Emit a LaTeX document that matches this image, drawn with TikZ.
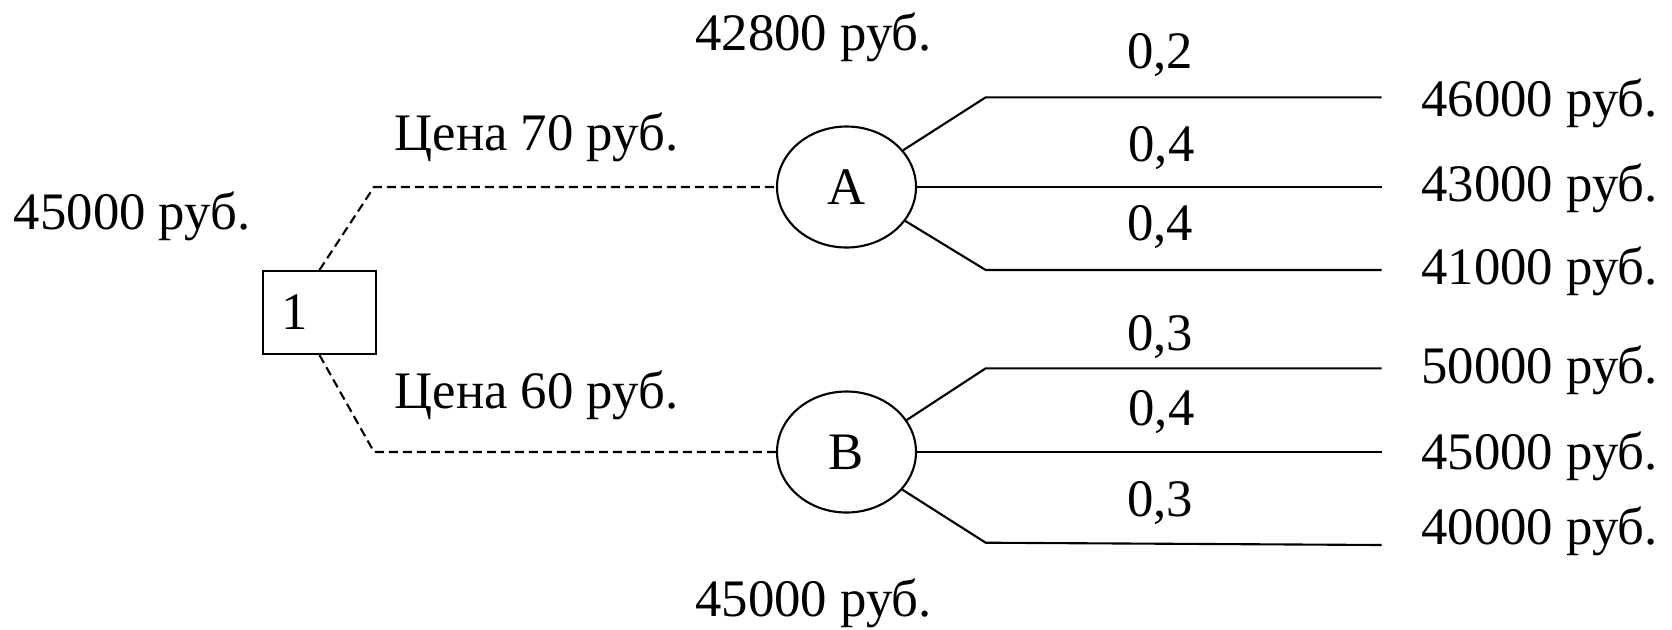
\documentclass[tikz,border=0pt]{standalone}
\usepackage{fontspec}
\setmainfont{Liberation Serif}
\usetikzlibrary{positioning}
\usetikzlibrary{shapes.geometric}

\begin{document}
\begin{tikzpicture}[font=\fontsize{15}{18}\selectfont,
    txt/.style={inner sep=0pt,text height=0.35cm,text depth=0pt},
    prob/.style={txt},
    chance node/.style={ellipse,draw,line width=0.6pt,minimum width=1.39cm,minimum height=1.21cm,inner sep=0pt},
    decision node/.style={rectangle,draw,line width=0.6pt,minimum height=0.83cm,text width=0.77cm,inner xsep=0.18cm,align=left},
    choice/.style={line width=0.6pt,dash pattern=on 0.09cm off 0.05cm},
    branch/.style={line width=0.6pt}]

    \useasboundingbox (0,0) rectangle (16.72,-6.29);

		\node[decision node](dec) at (3.195,-3.125){1};
		\node[chance node](A) at (8.465,-1.87){A};
		\node[chance node](B) at (8.465,-4.52){B};

		\coordinate (kA) at (3.74,-1.87);
		\coordinate (kB) at (3.74,-4.52);
		\coordinate (a1) at (9.857,-0.973);
		\coordinate (a1e) at (13.817,-0.973);
		\coordinate (a2e) at (13.817,-1.87);
		\coordinate (a3) at (9.857,-2.70);
		\coordinate (a3e) at (13.817,-2.70);
		\coordinate (b1) at (9.857,-3.683);
		\coordinate (b1e) at (13.817,-3.683);
		\coordinate (b2e) at (13.817,-4.52);
		\coordinate (b3) at (9.857,-5.427);
		\coordinate (b3e) at (13.817,-5.45);

		\node[txt](v0)[above left = 0.395cm and 0.11cm of dec.north west]{45000 руб.};
		\node[txt](pa)[above right = 0.355cm and 0.2cm of kA]{Цена 70 руб.};
		\node[txt](pb)[above right = 0.425cm and 0.2cm of kB]{Цена 60 руб.};
		\node[txt](vA)[above = 0.74cm of A, xshift = -0.33cm]{42800 руб.};
		\node[txt](vB)[below = 0.67cm of B, xshift = -0.33cm]{45000 руб.};

		\draw [choice] (dec.north) -- (kA) -- (A.west);
		\draw [choice] (dec.south) -- (kB) -- (B.west);

		\draw [branch] (A.33) -- (a1) -- node [prob, above = 0.275cm, pos = 0.44] {0,2} (a1e);
		\draw [branch] (A.east) -- node [prob, above = 0.245cm, pos = 0.526] {0,4} (a2e);
		\draw [branch] (A.-30) -- (a3) -- node [prob, above = 0.285cm, pos = 0.44] {0,4} (a3e);
		\draw [branch] (B.28) -- (b1) -- node [prob, above = 0.165cm, pos = 0.44] {0,3} (b1e);
		\draw [branch] (B.east) -- node [prob, above = 0.255cm, pos = 0.526] {0,4} (b2e);
		\draw [branch] (B.-34) -- (b3) -- node [prob, above = 0.265cm, pos = 0.44] {0,3} (b3e);

		\node[txt](r1)[right = 0.39cm of a1e, yshift = -0.02cm]{46000 руб.};
		\node[txt](r2)[right = 0.39cm of a2e, yshift = 0.03cm]{43000 руб.};
		\node[txt](r3)[right = 0.39cm of a3e, yshift = 0.035cm]{41000 руб.};
		\node[txt](r4)[right = 0.39cm of b1e, yshift = 0.02cm]{50000 руб.};
		\node[txt](r5)[right = 0.39cm of b2e]{45000 руб.};
		\node[txt](r6)[right = 0.39cm of b3e, yshift = 0.185cm]{40000 руб.};

	\end{tikzpicture}
\end{document}
